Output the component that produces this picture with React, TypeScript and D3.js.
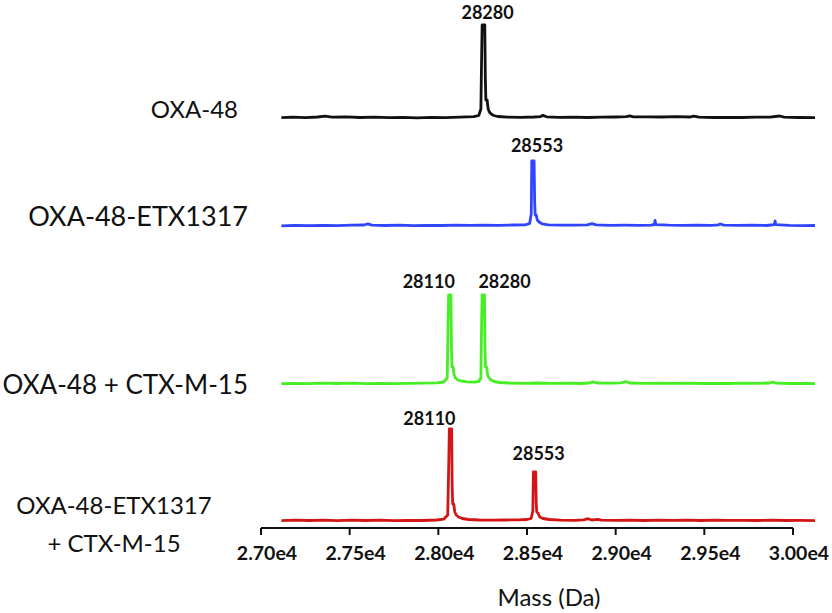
import React from 'react';
import * as d3 from 'd3';

// spectra as [mass (Da), relative intensity]
const oxa48 = [
  [27115, 0.3], [27180, 0.8], [27250, 0.4], [27320, 1.0], [27360, 1.8], [27400, 0.9], [27480, 1.1],
  [27560, 0.5], [27640, 0.8], [27720, 0.3], [27800, 0.6], [27880, 0.2], [27960, 0.7], [28040, 0.4],
  [28120, 0.9], [28200, 1.3], [28228, 2.5], [28240, 9], [28244, 60], [28247, 93], [28262, 93],
  [28265, 40], [28268, 18], [28275, 18], [28281, 9], [28288, 6], [28298, 4], [28312, 2.5], [28335, 1.5],
  [28390, 0.8], [28460, 0.6], [28540, 1.0], [28575, 1.4], [28590, 2.6], [28610, 1.2], [28680, 0.7],
  [28760, 0.9], [28840, 0.5], [28920, 0.8], [29000, 1.0], [29060, 1.3], [29080, 2.2], [29100, 1.1],
  [29180, 1.2], [29260, 1.0], [29340, 1.3], [29420, 1.0], [29440, 1.9], [29470, 0.8], [29550, 0.5],
  [29630, 0.7], [29710, 0.5], [29790, 0.8], [29870, 0.9], [29925, 2.0], [29950, 0.8], [30030, 0.5],
  [30124, 0.4],
];

const oxa48Etx = [
  [27115, 0.2], [27190, 0.6], [27270, 0.3], [27350, 0.7], [27430, 0.4], [27510, 0.8], [27580, 1.0],
  [27603, 2.2], [27625, 0.9], [27700, 0.5], [27780, 0.8], [27860, 0.4], [27940, 0.7], [28020, 0.5],
  [28100, 0.8], [28180, 0.6], [28260, 0.9], [28340, 0.7], [28420, 1.0], [28490, 1.2], [28515, 2.5],
  [28524, 12], [28527, 65], [28540, 65], [28543, 25], [28546, 11], [28552, 11], [28558, 6], [28568, 4],
  [28585, 2.2], [28620, 1.2], [28690, 0.8], [28770, 0.9], [28840, 1.2], [28866, 2.4], [28890, 1.1],
  [28970, 0.7], [29050, 0.8], [29130, 0.6], [29200, 0.9], [29218, 1.5], [29222, 5.5], [29226, 1.4],
  [29300, 0.8], [29380, 0.6], [29460, 0.9], [29540, 0.7], [29580, 1.2], [29589, 2.0], [29610, 0.9],
  [29690, 0.6], [29770, 0.8], [29850, 0.5], [29895, 1.4], [29899, 5.0], [29903, 1.3], [29980, 0.6],
  [30060, 0.4], [30124, 0.5],
];

const oxa48Ctx = [
  [27115, 0.3], [27190, 0.7], [27270, 0.4], [27350, 0.9], [27430, 0.5], [27510, 0.8], [27590, 0.4],
  [27670, 0.7], [27750, 0.3], [27830, 0.6], [27910, 0.8], [27990, 1.2], [28030, 2.0], [28050, 6],
  [28055, 60], [28058, 89], [28071, 89], [28074, 35], [28077, 17], [28083, 17], [28089, 9], [28097, 6],
  [28110, 4], [28130, 3], [28160, 2.2], [28200, 1.8], [28228, 2.5], [28240, 6], [28244, 60],
  [28247, 89], [28260, 89], [28263, 35], [28266, 17], [28272, 17], [28278, 9], [28286, 6], [28298, 4],
  [28315, 2.5], [28345, 1.5], [28400, 1.0], [28480, 0.7], [28560, 1.0], [28640, 0.6], [28720, 0.8],
  [28800, 0.5], [28850, 1.0], [28872, 2.2], [28895, 1.0], [28970, 0.8], [29030, 1.1], [29058, 2.3],
  [29080, 1.0], [29160, 0.7], [29240, 0.9], [29320, 0.6], [29400, 0.8], [29480, 0.5], [29560, 0.7],
  [29640, 0.5], [29720, 0.8], [29800, 0.6], [29870, 1.0], [29887, 2.0], [29905, 0.8], [29980, 0.5],
  [30060, 0.6], [30124, 0.4],
];

const oxa48EtxCtx = [
  [27115, 0.3], [27190, 0.8], [27270, 0.5], [27350, 0.9], [27430, 0.4], [27510, 0.9], [27590, 0.5],
  [27670, 0.8], [27750, 0.4], [27830, 0.7], [27910, 0.5], [27990, 1.0], [28030, 1.8], [28053, 6],
  [28059, 60], [28062, 92], [28075, 92], [28078, 35], [28081, 17], [28087, 17], [28093, 9], [28101, 6],
  [28114, 4], [28135, 2.5], [28170, 1.5], [28230, 1.0], [28300, 0.8], [28380, 1.0], [28450, 1.2],
  [28500, 1.5], [28523, 2.5], [28533, 10], [28536, 49], [28549, 49], [28552, 18], [28555, 9],
  [28562, 8], [28572, 4], [28590, 2.5], [28625, 1.5], [28690, 0.9], [28770, 0.7], [28820, 1.2],
  [28844, 2.3], [28865, 1.0], [28900, 1.6], [28920, 0.8], [29000, 0.6], [29080, 0.9], [29160, 0.5],
  [29240, 0.8], [29320, 0.6], [29400, 0.9], [29480, 0.5], [29560, 0.8], [29640, 0.6], [29720, 0.7],
  [29800, 0.5], [29880, 0.8], [29960, 0.5], [30040, 0.6], [30124, 0.4],
];

const traceNames = [['OXA-48'], ['OXA-48-ETX1317'], ['OXA-48 + CTX-M-15'], ['OXA-48-ETX1317', '+ CTX-M-15']];
const traceData = [oxa48, oxa48Etx, oxa48Ctx, oxa48EtxCtx];
const traceColors = ['#111111', '#2f45ff', '#46ee24', '#d41515'];

// peak labels: trace index, peak mass, peak height, label text, anchor
const peakLabels = [
  [0, 28255, 93, '28280', 'middle'],
  [1, 28534, 65, '28553', 'middle'],
  [2, 28065, 89, '28110', 'end'],
  [2, 28254, 89, '28280', 'start'],
  [3, 28069, 92, '28110', 'end'],
  [3, 28543, 49, '28553', 'middle'],
];

const tickValues = [27000, 27500, 28000, 28500, 29000, 29500, 30000];
const tickLabels = ['2.70e4', '2.75e4', '2.80e4', '2.85e4', '2.90e4', '2.95e4', '3.00e4'];

const width = 832;
const height = 613;
const baselines = [118, 226, 384, 521];
const axisY = 528;
const font = 'Lato, "Open Sans", sans-serif';

export default function App() {
  const x = d3.scaleLinear().domain([27000, 30000]).range([261, 793]);
  const yScales = baselines.map(b => d3.scaleLinear().domain([0, 100]).range([b, b - 100]));

  const nameLayout = [
    { x: 238, y: 118, anchor: 'end', size: 24 },
    { x: 248, y: 226, anchor: 'end', size: 27 },
    { x: 248, y: 394, anchor: 'end', size: 26 },
    { x: 114, y: 514, anchor: 'middle', size: 24 },
  ];
  const labelGap = [6, 9, 7, 7, 4, 12];

  return (
    <svg width={width} height={height} style={{ position: 'absolute', left: 0, top: 0 }}>
      <rect width={width} height={height} fill="#fff" />
      {traceData.map((d, i) => {
        const line = d3.line<number[]>()
          .x(p => x(p[0]))
          .y(p => yScales[i](p[1]));
        return (
          <path key={i} d={line(d) || ''} fill="none" stroke={traceColors[i]}
            strokeWidth={2.8} strokeLinejoin="round" />
        );
      })}

      {peakLabels.map((l, i) => {
        const [ti, mass, h, text, anchor] = l as [number, number, number, string, string];
        const px = x(mass);
        const dx = anchor === 'end' ? 5 : anchor === 'start' ? -5 : 4;
        return (
          <text key={i} x={px + dx} y={yScales[ti](h) - labelGap[i]} textAnchor={anchor}
            fontFamily={font} fontWeight="bold" fontSize={18} fill="#111">{text}</text>
        );
      })}

      {traceNames.map((lines, i) => (
        <text key={i} x={nameLayout[i].x} y={nameLayout[i].y} textAnchor={nameLayout[i].anchor}
          fontFamily={font} fontSize={nameLayout[i].size} fill="#111">
          {lines.map((t, j) => (
            <tspan key={j} x={nameLayout[i].x} dy={j === 0 ? 0 : 38}>{t}</tspan>
          ))}
        </text>
      ))}

      <g>
        <line x1={x(27000)} x2={x(30000)} y1={axisY} y2={axisY} stroke="#111" strokeWidth={2} />
        {tickValues.map((t, i) => (
          <g key={t} transform={`translate(${x(t)},${axisY})`}>
            <line y1={0} y2={7} stroke="#111" strokeWidth={2} />
            <text x={6} y={32} textAnchor="middle" fontFamily={font} fontWeight="bold"
              fontSize={19.5} fill="#111">{tickLabels[i]}</text>
          </g>
        ))}
        <text x={549} y={606} textAnchor="middle" fontFamily={font} fontSize={24} fill="#111">Mass (Da)</text>
      </g>
    </svg>
  );
}
